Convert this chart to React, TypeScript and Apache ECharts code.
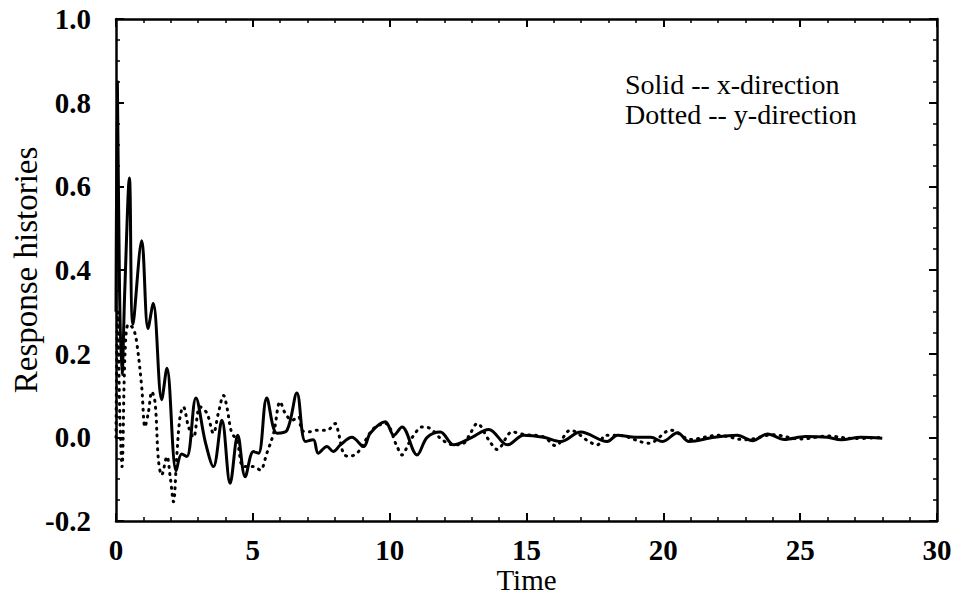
import React, { useEffect, useRef } from "react";
import * as echarts from "echarts";

// Solid -- x-direction
const solidTime = [0, 0.05, 0.13, 0.22, 0.32, 0.49, 0.62, 0.94, 1.17, 1.36, 1.67, 1.86, 2.2, 2.4, 2.59, 2.92, 3.26, 3.56, 3.87, 4.17, 4.45, 4.72, 5.02, 5.21, 5.51, 5.88, 6.25, 6.61, 6.92, 7.21, 7.39, 7.71, 7.94, 8.2, 8.62, 9.05, 9.29, 9.84, 10.15, 10.45, 11.0, 11.37, 11.85, 12.34, 12.95, 13.62, 14.3, 14.9, 15.63, 16.25, 16.98, 17.95, 18.32, 19.0, 19.54, 19.97, 20.52, 20.94, 21.86, 22.7, 23.26, 23.81, 24.42, 25.2, 26.0, 26.49, 27.22, 28.0];
const solidValue = [0.3, 0.85, 0.35, 0.15, 0.35, 0.62, 0.27, 0.47, 0.26, 0.32, 0.09, 0.165, -0.08, -0.04, -0.046, 0.094, -0.01, -0.07, 0.041, -0.11, 0.005, -0.094, -0.034, -0.038, 0.094, 0.01, 0.017, 0.106, -0.01, -0.006, -0.038, -0.022, -0.034, -0.018, 0.0, -0.022, 0.01, 0.037, 0.005, 0.025, -0.042, 0.0, 0.013, -0.018, -0.002, 0.019, -0.018, 0.005, 0.0, -0.01, 0.013, -0.01, 0.005, 0.0, 0.0, -0.01, 0.011, -0.01, 0.0, 0.005, -0.008, 0.008, -0.005, 0.002, 0.0, -0.006, 0.0, -0.002];

// Dotted -- y-direction
const dottedTime = [0, 0.06, 0.14, 0.22, 0.33, 0.45, 0.63, 0.76, 0.94, 1.06, 1.18, 1.31, 1.43, 1.55, 1.67, 1.86, 1.98, 2.1, 2.22, 2.34, 2.46, 2.65, 2.83, 3.07, 3.32, 3.56, 3.74, 3.93, 4.05, 4.23, 4.42, 4.66, 5.02, 5.27, 5.51, 5.76, 6.0, 6.18, 6.43, 6.67, 6.79, 7.04, 7.34, 7.71, 8.01, 8.13, 8.32, 8.5, 8.81, 9.41, 9.84, 10.27, 10.45, 10.7, 10.88, 11.18, 11.49, 11.92, 12.34, 12.71, 12.95, 13.2, 13.62, 13.93, 14.48, 14.9, 15.63, 16.06, 16.61, 17.28, 17.59, 17.89, 18.32, 19.48, 20.27, 21.0, 22.0, 23.0, 24.0, 25.0, 26.0, 27.0, 28.0];
const dottedValue = [0.0, 0.3, 0.05, -0.07, 0.2, 0.27, 0.26, 0.225, 0.12, 0.025, 0.058, 0.109, 0.082, -0.054, -0.09, -0.046, -0.094, -0.154, -0.046, 0.049, 0.073, 0.025, 0.0, 0.073, 0.058, 0.01, 0.058, 0.1, 0.073, 0.01, -0.006, -0.07, -0.07, -0.078, -0.038, 0.01, 0.085, 0.058, 0.041, 0.049, 0.017, 0.013, 0.017, 0.017, 0.033, 0.01, -0.04, -0.045, -0.038, 0.021, 0.033, -0.022, -0.042, -0.014, 0.005, 0.025, 0.021, -0.006, -0.018, -0.014, 0.01, 0.033, -0.006, -0.029, 0.013, 0.007, 0.001, -0.02, 0.017, -0.01, -0.018, 0.005, 0.005, -0.014, 0.017, -0.005, 0.005, -0.006, 0.006, -0.004, 0.003, -0.003, 0.0];

const legendLines = ["Solid -- x-direction", "Dotted -- y-direction"];
const xTitle = "Time";
const yTitle = "Response histories";

const FONT = '"Liberation Serif", "Times New Roman", serif';

export default function App() {
  const ref = useRef<HTMLDivElement>(null);
  useEffect(() => {
    document.body.style.margin = "0";
    if (!ref.current) return;
    const chart = echarts.init(ref.current, undefined, { renderer: "svg" });
    const black = "#000";
    const tickLabel = { fontFamily: FONT, fontSize: 29, fontWeight: "bold" as const, color: black };
    const baseAxis = {
      type: "value" as const,
      axisLine: { show: true, onZero: false, lineStyle: { color: black, width: 2.5 } },
      axisTick: { show: true, inside: true, length: 8, lineStyle: { color: black, width: 2 } },
      splitLine: { show: false },
    };
    chart.setOption({
      animation: false,
      backgroundColor: "#fff",
      grid: { left: 116, right: 26, top: 19, bottom: 81, containLabel: false, outerBoundsMode: "none" },
      xAxis: [
        {
          ...baseAxis,
          min: 0, max: 30, interval: 5,
          minorTick: { show: true, splitNumber: 5, length: 4, lineStyle: { color: black, width: 1.5 } },
          axisLabel: { ...tickLabel, margin: 14 },
          name: xTitle, nameLocation: "middle", nameGap: 44, nameMoveOverlap: false,
          nameTextStyle: { fontFamily: FONT, fontSize: 29, color: black },
        },
        {
          ...baseAxis,
          position: "top",
          min: 0, max: 30, interval: 5,
          minorTick: { show: true, splitNumber: 5, length: 4, lineStyle: { color: black, width: 1.5 } },
          axisLabel: { show: false },
        },
      ],
      yAxis: [
        {
          ...baseAxis,
          min: -0.2, max: 1.0, interval: 0.2,
          minorTick: { show: true, splitNumber: 4, length: 4, lineStyle: { color: black, width: 1.5 } },
          axisLabel: { ...tickLabel, margin: 25, formatter: (v: number) => v.toFixed(1) },
          name: yTitle, nameLocation: "middle", nameGap: 74, nameMoveOverlap: false,
          nameTextStyle: { fontFamily: FONT, fontSize: 33, color: black },
        },
        {
          ...baseAxis,
          position: "right",
          min: -0.2, max: 1.0, interval: 0.2,
          minorTick: { show: true, splitNumber: 4, length: 4, lineStyle: { color: black, width: 1.5 } },
          axisLabel: { show: false },
        },
      ],
      series: [
        {
          type: "line",
          data: solidTime.map((t, i) => [t, solidValue[i]]),
          showSymbol: false,
          smooth: 0.35,
          lineStyle: { color: black, width: 3 },
          xAxisIndex: 0, yAxisIndex: 0,
        },
        {
          type: "line",
          data: dottedTime.map((t, i) => [t, dottedValue[i]]),
          showSymbol: false,
          smooth: 0.35,
          lineStyle: { color: black, width: 3, type: [1, 6], cap: "round" },
          xAxisIndex: 0, yAxisIndex: 0,
        },
      ],
      graphic: legendLines.map((txt, i) => ({
        type: "text",
        x: 625,
        y: 84 + i * 30,
        style: { text: txt, font: `28px ${FONT}`, fill: black, verticalAlign: "middle" },
      })),
    });
    return () => chart.dispose();
  }, []);
  return <div ref={ref} style={{ width: 963, height: 602 }} />;
}
